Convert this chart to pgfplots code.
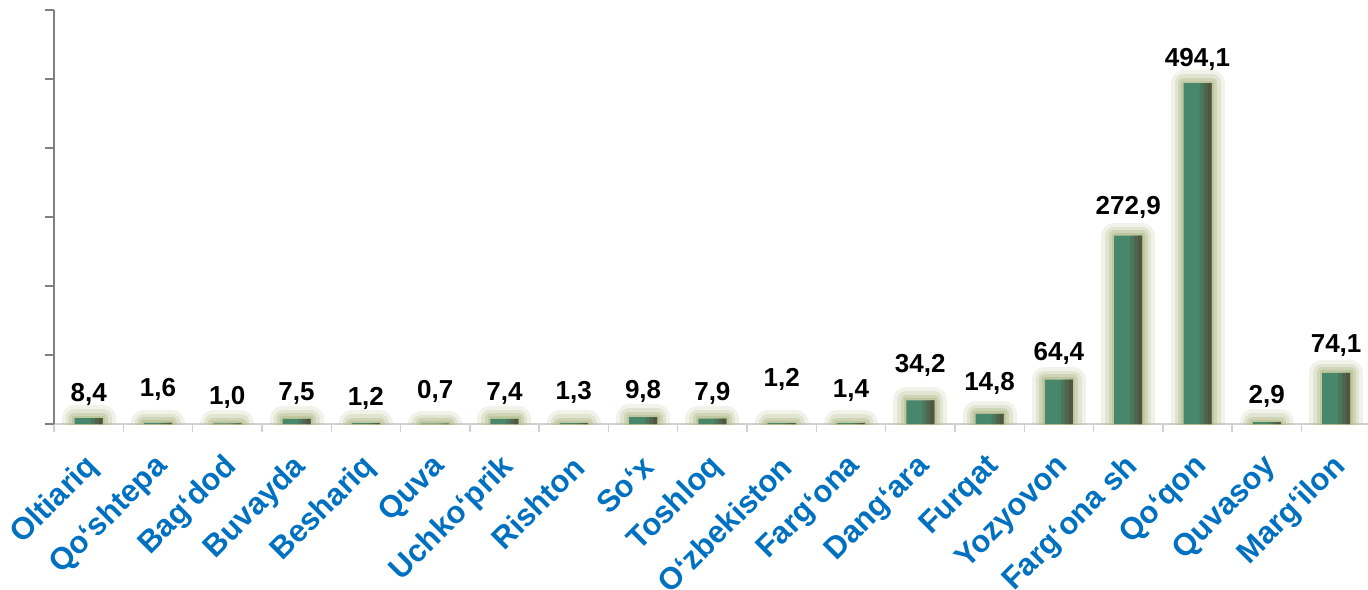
\documentclass[border=0pt]{standalone}
\usepackage{fontspec}
\setmainfont{Liberation Sans}
\usepackage{pgfplots}
\pgfplotsset{compat=1.18}
\usepackage{pgfplotstable}
\definecolor{tickblue}{RGB}{0,112,192}
\definecolor{bgreen}{RGB}{72,135,107}
\definecolor{bdark}{RGB}{84,72,52}
\definecolor{glow}{RGB}{184,193,148}
\pgfplotstableread{
x y off
0 8.4 17
1 1.6 26
2 1.0 19
3 7.5 18
4 1.2 18
5 0.7 25
6 7.4 18
7 1.3 24
8 9.8 19
9 7.9 18
10 1.2 37
11 1.4 26
12 34.2 28
13 14.8 23
14 64.4 19
15 272.9 21
16 494.1 17
17 2.9 19
18 74.1 20
}\datatab
\begin{document}
\begin{tikzpicture}
\useasboundingbox (-54pt,-165pt) rectangle (1314pt,424pt);
\begin{axis}[
  at={(0,0)}, anchor=south west,
  scale only axis, width=1314pt, height=414pt,
  xmin=-0.5, xmax=18.46, ymin=0, ymax=600,
  axis x line=bottom, axis y line=left,
  axis line style={-},
  x axis line style={draw=black!18, line width=1.6pt},
  y axis line style={draw=black!50, line width=1.2pt},
  ytick={0,100,...,600}, yticklabels={},
  y tick style={draw=black!50, line width=1.2pt},
  xtick={0,...,18},
  minor xtick={-0.5,0.5,...,18.5},
  major x tick style={draw=none},
  minor x tick style={draw=black!18, line width=1.4pt},
  tick align=outside,
  major tick length=9pt, minor tick length=8pt,
  xticklabels={Oltiariq,Qo‘shtepa,Bag‘dod,Buvayda,Beshariq,Quva,Uchko‘prik,Rishton,So‘x,Toshloq,O‘zbekiston,Farg‘ona,Dang‘ara,Furqat,Yozyovon,Farg‘ona sh,Qo‘qon,Quvasoy,Marg‘ilon},
  xticklabel style={font=\fontsize{31}{35}\selectfont\bfseries, text=tickblue, xshift=5pt, yshift=-29pt, rotate=45, anchor=east, inner sep=0pt},
  ybar, bar width=28pt,
]
% glow layers
\addplot[bar shift=0pt, draw=glow, draw opacity=0.2, fill=none, line width=26pt, line join=round] table[x=x,y=y]{\datatab};
\addplot[bar shift=0pt, draw=glow, draw opacity=0.3, fill=none, line width=18pt, line join=round] table[x=x,y=y]{\datatab};
\addplot[bar shift=0pt, draw=glow, draw opacity=0.45, fill=none, line width=11pt, line join=round] table[x=x,y=y]{\datatab};
\addplot[bar shift=0pt, draw=glow, draw opacity=0.7, fill=none, line width=5pt, line join=round] table[x=x,y=y]{\datatab};
% main bar
\addplot[bar shift=0pt, draw=none, fill=bgreen] table[x=x,y=y]{\datatab};
% darker right edge
\addplot[bar shift=8pt, bar width=12pt, draw=none, fill=bdark, fill opacity=0.25] table[x=x,y=y]{\datatab};
\addplot[bar shift=10pt, bar width=8pt, draw=none, fill=bdark, fill opacity=0.35] table[x=x,y=y]{\datatab};
\addplot[bar shift=12pt, bar width=4pt, draw=none, fill=bdark, fill opacity=0.5,
  visualization depends on={\thisrow{off}\as\myoff},
  nodes near coords={\pgfmathprintnumber[fixed,fixed zerofill,precision=1,use comma,assume math mode=true]{\pgfplotspointmeta}},
  every node near coord/.append style={font=\fontsize{26}{30}\selectfont\bfseries, text=black, fill opacity=1, text opacity=1, anchor=base, xshift=-12pt, yshift=\myoff pt, inner sep=0pt}
] table[x=x,y=y]{\datatab};
\end{axis}
\end{tikzpicture}
\end{document}
